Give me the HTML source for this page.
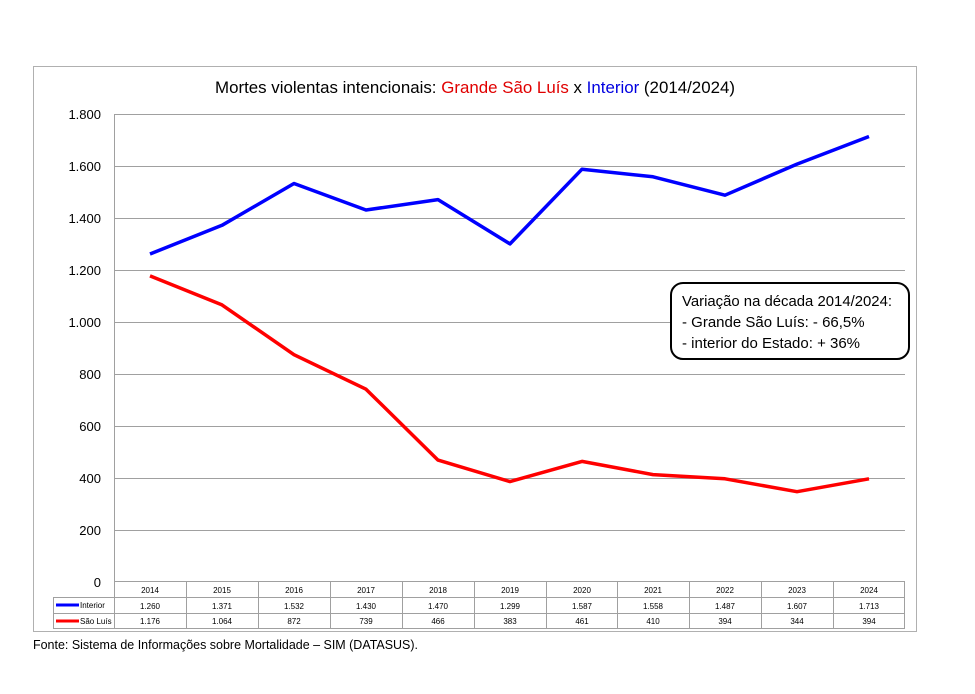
<!DOCTYPE html>
<html><head><meta charset="utf-8"><style>
body{margin:0;background:#fff;}
svg text{font-family:"Liberation Sans",sans-serif;}
</style></head><body>
<svg width="975" height="689" xmlns="http://www.w3.org/2000/svg">
<rect x="0" y="0" width="975" height="689" fill="#fff"/>
<rect x="33.5" y="66.5" width="883" height="565" fill="#fff" stroke="#b0b0b0" stroke-width="1"/>
<text x="475" y="93" font-size="17" text-anchor="middle" fill="#000" textLength="520" lengthAdjust="spacingAndGlyphs">Mortes violentas intencionais: <tspan fill="#e00000">Grande São Luís</tspan> x <tspan fill="#0000e0">Interior</tspan> (2014/2024)</text>
<g stroke="#a0a0a0" stroke-width="1">
<line x1="114" x2="905" y1="114.5" y2="114.5"/>
<line x1="114" x2="905" y1="166.5" y2="166.5"/>
<line x1="114" x2="905" y1="218.5" y2="218.5"/>
<line x1="114" x2="905" y1="270.5" y2="270.5"/>
<line x1="114" x2="905" y1="322.5" y2="322.5"/>
<line x1="114" x2="905" y1="374.5" y2="374.5"/>
<line x1="114" x2="905" y1="426.5" y2="426.5"/>
<line x1="114" x2="905" y1="478.5" y2="478.5"/>
<line x1="114" x2="905" y1="530.5" y2="530.5"/>
<line x1="114.5" x2="114.5" y1="114" y2="629"/>
</g>
<g font-size="13" text-anchor="end" fill="#000">
<text x="101" y="119">1.800</text><text x="101" y="171">1.600</text><text x="101" y="223">1.400</text>
<text x="101" y="275">1.200</text><text x="101" y="327">1.000</text><text x="101" y="379">800</text>
<text x="101" y="431">600</text><text x="101" y="483">400</text><text x="101" y="535">200</text>
<text x="101" y="587">0</text>
</g>
<g stroke="#a0a0a0" stroke-width="1" fill="none">
<line x1="114" x2="905" y1="581.5" y2="581.5"/>
<line x1="53" x2="905" y1="597.5" y2="597.5"/>
<line x1="53" x2="905" y1="613.5" y2="613.5"/>
<line x1="53" x2="905" y1="628.5" y2="628.5"/>
<line x1="53.5" x2="53.5" y1="597" y2="629"/>
<line x1="186.5" x2="186.5" y1="581" y2="629"/><line x1="258.5" x2="258.5" y1="581" y2="629"/>
<line x1="330.5" x2="330.5" y1="581" y2="629"/><line x1="402.5" x2="402.5" y1="581" y2="629"/>
<line x1="474.5" x2="474.5" y1="581" y2="629"/><line x1="546.5" x2="546.5" y1="581" y2="629"/>
<line x1="617.5" x2="617.5" y1="581" y2="629"/><line x1="689.5" x2="689.5" y1="581" y2="629"/>
<line x1="761.5" x2="761.5" y1="581" y2="629"/><line x1="833.5" x2="833.5" y1="581" y2="629"/>
<line x1="904.5" x2="904.5" y1="581" y2="629"/>
</g>
<line x1="56" x2="79" y1="605" y2="605" stroke="#0000ff" stroke-width="3"/>
<line x1="56" x2="79" y1="621" y2="621" stroke="#ff0000" stroke-width="3"/>
<g font-size="8" fill="#000"><text x="80" y="608">Interior</text><text x="80" y="624">São Luís</text></g>
<g font-size="8" text-anchor="middle" fill="#000">
<text x="150" y="593">2014</text><text x="222" y="593">2015</text><text x="294" y="593">2016</text><text x="366" y="593">2017</text><text x="438" y="593">2018</text><text x="510" y="593">2019</text><text x="582" y="593">2020</text><text x="653" y="593">2021</text><text x="725" y="593">2022</text><text x="797" y="593">2023</text><text x="869" y="593">2024</text>
<text x="150" y="609">1.260</text><text x="222" y="609">1.371</text><text x="294" y="609">1.532</text><text x="366" y="609">1.430</text><text x="438" y="609">1.470</text><text x="510" y="609">1.299</text><text x="582" y="609">1.587</text><text x="653" y="609">1.558</text><text x="725" y="609">1.487</text><text x="797" y="609">1.607</text><text x="869" y="609">1.713</text>
<text x="150" y="624">1.176</text><text x="222" y="624">1.064</text><text x="294" y="624">872</text><text x="366" y="624">739</text><text x="438" y="624">466</text><text x="510" y="624">383</text><text x="582" y="624">461</text><text x="653" y="624">410</text><text x="725" y="624">394</text><text x="797" y="624">344</text><text x="869" y="624">394</text>
</g>
<polyline fill="none" stroke="#0000ff" stroke-width="3.5" stroke-linejoin="round" points="150,254 222,225.3 294,183.5 366,210 438,199.6 510,243.9 582,169.2 653,176.8 725,195.2 797,164.1 869,136.5"/>
<polyline fill="none" stroke="#ff0000" stroke-width="3.5" stroke-linejoin="round" points="150,275.9 222,304.9 294,354.7 366,389.2 438,460.1 510,481.6 582,461.4 653,474.6 725,478.8 797,491.7 869,478.8"/>
<rect x="671" y="283" width="238" height="76" rx="12" fill="#fff" stroke="#000" stroke-width="2"/>
<g font-size="15" fill="#000"><text x="682" y="306" textLength="210" lengthAdjust="spacingAndGlyphs">Variação na década 2014/2024:</text><text x="682" y="327">- Grande São Luís: - 66,5%</text><text x="682" y="348">- interior do Estado: + 36%</text></g>
<text x="33" y="649" font-size="13" fill="#000" textLength="385" lengthAdjust="spacingAndGlyphs">Fonte: Sistema de Informações sobre Mortalidade – SIM (DATASUS).</text>
</svg>
</body></html>
